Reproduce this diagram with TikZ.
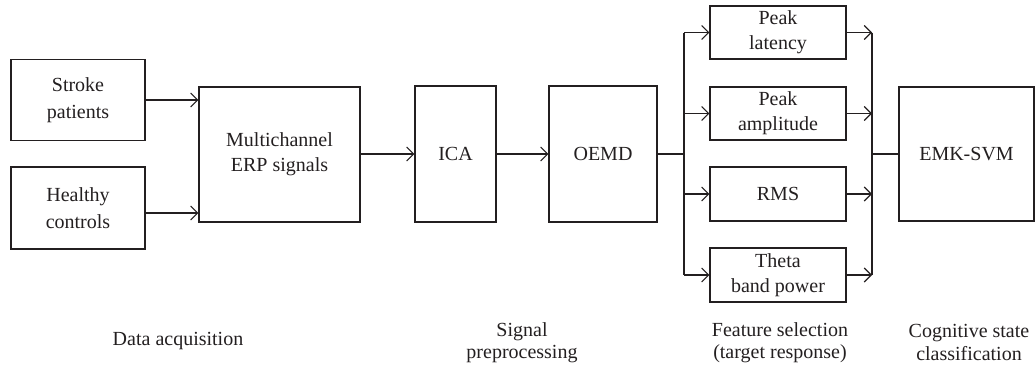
\documentclass[tikz,border=0pt]{standalone}
\usepackage{fontspec}
\setmainfont{Liberation Serif}
\usetikzlibrary{arrows.meta}
\definecolor{ink}{HTML}{231F20}
\begin{document}
\begin{tikzpicture}[x=1pt,y=-1pt,
  box/.style={draw=ink,line width=1.1pt,inner sep=0pt,align=center,text=ink,
    font=\fontsize{20}{25}\selectfont},
  tallbox/.style={box,font=\fontsize{20}{27}\selectfont},
  lab/.style={align=center,text=ink,inner sep=0pt,font=\fontsize{20}{22.5}\selectfont},
  conn/.style={draw=ink,line width=1.1pt},
  arr/.style={conn,-{Straight Barb[length=7pt,width=14pt,line width=1.1pt]}}]
\useasboundingbox (0,0) rectangle (1036,372);
% boxes
\node[tallbox,minimum width=134pt,minimum height=81pt] (sp) at (78,100) {Stroke\\patients};
\node[tallbox,minimum width=134pt,minimum height=82pt] (hc) at (78,208) {Healthy\\controls};
\node[box,minimum width=161pt,minimum height=135pt] (mc) at (279.5,154.5) {Multichannel\\ERP signals};
\node[box,minimum width=81pt,minimum height=136pt] (ica) at (455.5,154) {ICA};
\node[box,minimum width=108pt,minimum height=136pt] (oemd) at (603,154) {OEMD};
\node[box,minimum width=136pt,minimum height=53pt] (pl) at (778,32.5) {Peak\\latency};
\node[box,minimum width=136pt,minimum height=53pt] (pa) at (778,113.5) {Peak\\amplitude};
\node[box,minimum width=136pt,minimum height=54pt] (rms) at (778,194) {RMS};
\node[box,minimum width=136pt,minimum height=54pt] (tb) at (778,275) {Theta\\band power};
\node[box,minimum width=135pt,minimum height=134pt] (svm) at (966.5,154) {EMK-SVM};
% junctions
\coordinate (jl) at (684,154);
\coordinate (jr) at (872,154);
% connectors
\draw[arr] (sp.east) -- (sp.east -| mc.west);
\draw[arr] ([yshift=-5pt]hc.east) -- ([yshift=-5pt]hc.east -| mc.west);
\draw[arr] (mc.east |- ica.west) -- (ica.west);
\draw[arr] (ica.east) -- (oemd.west);
\draw[conn] (oemd.east) -- (jl);
\draw[conn] (jl |- pl.west) -- (jl |- tb.west);
\foreach \n in {pl,pa,rms,tb}{
  \draw[arr] (jl |- \n.west) -- (\n.west);
  \draw[arr] (\n.east) -- (jr |- \n.east);
}
\draw[conn] (jr |- pl.east) -- (jr |- tb.east);
\draw[conn] (jr) -- (svm.west);
% stage labels
\node[lab] (l1) at (178,341) {Data acquisition};
\node[lab] (l2) at (522,342.5) {Signal\\preprocessing};
\node[lab] (l3) at (780,342.5) {Feature selection\\(target response)};
\node[lab] (l4) at (969,342.5) {Cognitive state\\classification};
\end{tikzpicture}
\end{document}
